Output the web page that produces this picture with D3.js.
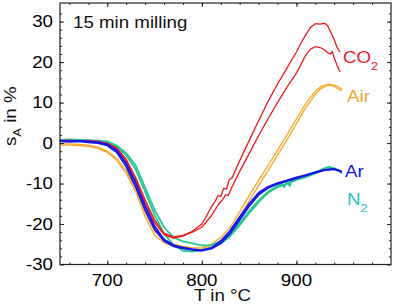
<!DOCTYPE html>
<html lang="en">

<body style="margin:0">
    <script type='text/javascript' src='https://d3js.org/d3.v7.min.js'></script>
    <style>
        svg text { font-family: "Liberation Sans", Arial, sans-serif; }
    </style>
    <script>
        // [T in °C, sA in %]
        const co2A = [[650, 0.6], [660, 0.7], [670, 0.5], [680, 0.6], [690, 0.4], [700, 0.0], [710, -1.2], [720, -4.0],
            [730, -8.5], [740, -14.0], [750, -19.0], [760, -22.3], [770, -23.2], [780, -22.8], [790, -21.8], [800, -20.0],
            [805, -18.0], [810, -15.8], [814, -14.4], [817, -13.0], [820, -13.2], [823, -11.2], [826, -11.4], [829, -9.0],
            [832, -8.6], [836, -6.4], [840, -4.4], [850, 0.6], [860, 5.5], [870, 10.3], [880, 14.6], [890, 18.5],
            [900, 22.5], [905, 24.8], [910, 26.8], [915, 28.6], [920, 29.5], [925, 29.4], [930, 29.6], [933, 29.0],
            [936, 27.5], [940, 25.5], [943, 23.6], [946, 22.5]];
        const co2B = [[650, 0.4], [660, 0.5], [670, 0.4], [680, 0.5], [690, 0.3], [700, -0.2], [710, -1.5], [720, -4.4],
            [730, -9.0], [740, -14.6], [750, -19.6], [760, -22.6], [770, -23.5], [780, -23.0], [790, -22.0], [800, -20.8],
            [810, -18.0], [818, -15.0], [822, -14.0], [825, -12.8], [828, -12.9], [832, -10.8], [840, -7.0], [850, -2.6],
            [860, 1.8], [870, 6.0], [880, 10.0], [890, 13.8], [900, 17.3], [905, 19.5], [910, 21.8], [915, 23.2],
            [920, 23.8], [925, 23.6], [930, 23.0], [933, 22.3], [936, 22.0], [938, 22.6], [940, 21.0], [943, 19.2],
            [946, 17.6]];
        const airA = [[650, -0.2], [660, -0.2], [670, -0.3], [680, -0.5], [690, -1.0], [700, -2.0], [710, -3.8], [720, -6.8],
            [730, -11.2], [740, -17.2], [750, -21.8], [760, -24.0], [770, -25.0], [780, -25.5], [790, -25.9], [800, -25.9],
            [810, -25.0], [820, -23.3], [830, -20.8], [840, -17.0], [850, -13.0], [860, -9.2], [870, -5.5], [880, -1.8],
            [890, 2.0], [900, 6.0], [910, 9.8], [920, 12.8], [925, 13.8], [930, 14.3], [935, 14.5], [940, 14.3],
            [945, 13.8], [948, 13.3]];
        const airB = [[650, -0.5], [660, -0.5], [670, -0.6], [680, -0.8], [690, -1.3], [700, -2.3], [710, -4.3], [720, -7.5],
            [730, -12.0], [740, -18.2], [750, -22.7], [760, -24.6], [770, -25.5], [780, -26.0], [790, -26.3], [800, -26.2],
            [810, -25.4], [820, -24.0], [830, -21.8], [840, -18.2], [850, -14.3], [860, -10.5], [870, -6.8], [880, -3.0],
            [890, 0.8], [900, 4.8], [910, 8.8], [920, 12.0], [925, 13.3], [930, 14.0], [935, 14.3], [940, 14.0],
            [945, 13.3], [948, 12.8]];
        const arA = [[650, 0.6], [660, 0.5], [670, 0.6], [680, 0.4], [690, 0.2], [700, -0.3], [710, -1.8], [720, -5.0],
            [730, -9.8], [740, -15.5], [750, -20.5], [760, -23.8], [770, -25.2], [780, -25.8], [790, -26.2], [800, -26.5],
            [810, -25.9], [820, -24.2], [830, -21.6], [840, -18.3], [850, -15.0], [860, -12.3], [870, -10.8], [880, -9.9],
            [890, -9.2], [900, -8.5], [910, -7.9], [920, -7.2], [930, -6.6], [940, -6.4], [945, -6.8], [948, -7.1]];
        const arB = [[650, 0.4], [660, 0.3], [670, 0.4], [680, 0.2], [690, 0.0], [700, -0.6], [710, -2.3], [720, -5.8],
            [730, -10.8], [740, -16.5], [750, -21.3], [760, -24.2], [770, -25.5], [780, -26.0], [790, -26.4], [800, -26.6],
            [810, -26.1], [820, -24.8], [830, -22.3], [840, -19.0], [850, -15.6], [860, -12.8], [870, -11.1], [880, -10.1],
            [890, -9.4], [900, -8.7], [910, -8.0], [920, -7.3], [930, -6.7], [940, -6.5], [948, -7.0]];
        const n2A = [[650, 0.8], [660, 0.9], [670, 0.8], [680, 0.7], [690, 0.6], [700, 0.4], [710, -0.6], [720, -2.5],
            [730, -5.5], [740, -11.0], [750, -16.5], [760, -20.8], [770, -23.3], [780, -24.3], [790, -24.8], [800, -25.3],
            [810, -25.2], [820, -24.3], [830, -22.5], [840, -19.8], [850, -16.8], [860, -14.2], [870, -12.0], [880, -10.6],
            [885, -10.0], [887, -10.9], [890, -9.6], [893, -10.6], [895, -9.2], [900, -8.9], [910, -8.2], [920, -7.2],
            [930, -6.2], [935, -5.9], [940, -6.3], [945, -6.8], [948, -7.5]];
        const n2B = [[650, 0.6], [660, 0.7], [670, 0.6], [680, 0.5], [690, 0.4], [700, 0.2], [710, -0.9], [720, -3.0],
            [730, -6.5], [740, -12.0], [750, -17.8], [760, -22.3], [770, -25.2], [780, -26.6], [790, -26.8], [800, -26.4],
            [810, -25.9], [820, -24.8], [830, -23.0], [840, -20.3], [850, -17.3], [860, -14.6], [870, -12.3], [880, -10.9],
            [890, -10.0], [900, -9.1], [910, -8.4], [920, -7.5], [930, -6.5], [940, -6.2], [948, -7.3]];

        const xMajor = [700, 800, 900];
        const yMajor = [-30, -20, -10, 0, 10, 20, 30];

        const width = 393, height = 305;
        const mLeft = 60, mRight = 391, mTop = 3, mBottom = 264.5;
        const sx = 1.17; // glyphs in the picture are wider than Arial

        var x = d3.scaleLinear().domain([650, 1000]).range([mLeft, mRight]);
        var y = d3.scaleLinear().domain([-30, 34.6]).range([mBottom, mTop]);

        var svg = d3.select("body").append("svg")
            .attr("width", width)
            .attr("height", height);

        var series = [
            { d: airA, c: "#f5a829", w: 1.3 },
            { d: airB, c: "#f5a829", w: 1.3 },
            { d: n2A, c: "#24c893", w: 1.8 },
            { d: n2B, c: "#24c893", w: 1.8 },
            { d: co2A, c: "#ee1b1b", w: 1.3 },
            { d: co2B, c: "#ee1b1b", w: 1.3 },
            { d: arA, c: "#1515e8", w: 1.8 },
            { d: arB, c: "#1515e8", w: 1.8 }
        ];

        var line = d3.line()
            .x(function (d) { return x(d[0]); })
            .y(function (d) { return y(d[1]); });

        svg.selectAll("path.curve")
            .data(series)
            .enter()
            .append("path")
            .attr("class", "curve")
            .attr("d", function (s) { return line(s.d); })
            .attr("fill", "none")
            .attr("stroke", function (s) { return s.c; })
            .attr("stroke-width", function (s) { return s.w; })
            .attr("stroke-linejoin", "round");

        // ticks, inward on all four sides
        function ticks(axis, vals, size, tx, ty) {
            svg.append("g")
                .attr("transform", "translate(" + tx + "," + ty + ")")
                .call(axis.tickValues(vals).tickSize(size).tickFormat(""))
                .call(function (g) { g.select(".domain").remove(); })
                .selectAll("line").attr("stroke", "#222");
        }
        var xMinor = d3.range(660, 1000, 20);
        var yMinor = d3.range(-28, 34, 2);
        ticks(d3.axisBottom(x), xMinor, -2, 0, mBottom);
        ticks(d3.axisBottom(x), xMajor, -4, 0, mBottom);
        ticks(d3.axisTop(x), xMinor, -2, 0, mTop);
        ticks(d3.axisTop(x), xMajor, -4, 0, mTop);
        ticks(d3.axisLeft(y), yMinor, -2, mLeft, 0);
        ticks(d3.axisLeft(y), yMajor, -4, mLeft, 0);
        ticks(d3.axisRight(y), yMinor, -2, mRight, 0);
        ticks(d3.axisRight(y), yMajor, -4, mRight, 0);

        svg.append("rect")
            .attr("x", mLeft).attr("y", mTop)
            .attr("width", mRight - mLeft).attr("height", mBottom - mTop)
            .attr("fill", "none").attr("stroke", "#222").attr("stroke-width", 1.2);

        // tick labels
        svg.selectAll("text.xl")
            .data(xMajor)
            .enter()
            .append("text")
            .attr("class", "xl")
            .attr("transform", function (d) { return "translate(" + x(d) + ",286) scale(" + sx + ",1)"; })
            .attr("text-anchor", "middle")
            .attr("font-size", 16)
            .text(function (d) { return d; });

        svg.selectAll("text.yl")
            .data(yMajor)
            .enter()
            .append("text")
            .attr("class", "yl")
            .attr("transform", function (d) { return "translate(" + (mLeft - 7) + "," + (y(d) + 5.7) + ") scale(" + sx + ",1)"; })
            .attr("text-anchor", "end")
            .attr("font-size", 16)
            .text(function (d) { return String(d); });

        function label(tx, ty, str, col, sub) {
            var t = svg.append("text")
                .attr("transform", "translate(" + tx + "," + ty + ") scale(" + sx + ",1)")
                .attr("font-size", 16)
                .attr("fill", col);
            t.append("tspan").text(str);
            if (sub) t.append("tspan").attr("dy", 7).attr("font-size", 11).text(sub);
            return t;
        }
        label(73, 28, "15 min milling", "#111");
        label(343, 63, "CO", "#ee1b1b", "2");
        label(347, 102, "Air", "#f0a830");
        label(345, 177, "Ar", "#1515e8");
        label(347, 205, "N", "#27c4c4", "2");
        label(194, 301, "T in \u00B0C", "#111");

        var yt = svg.append("text")
            .attr("transform", "translate(16,146) rotate(-90) scale(" + sx + ",1)")
            .attr("font-size", 16)
            .attr("fill", "#111");
        yt.append("tspan").text("s");
        yt.append("tspan").attr("dy", 5).attr("font-size", 11).text("A");
        yt.append("tspan").attr("dy", -5).text(" in %");
    </script>

</body>

</html>
